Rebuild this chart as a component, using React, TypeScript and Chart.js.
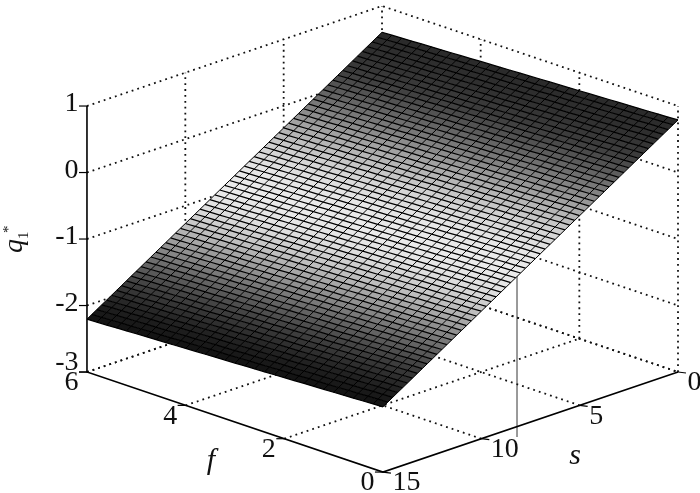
import React, { useEffect, useRef } from "react";
import { Chart, registerables } from "chart.js";

Chart.register(...registerables);

// --- data ---
const sGrid = [0,0.25,0.5,0.75,1,1.25,1.5,1.75,2,2.25,2.5,2.75,3,3.25,3.5,3.75,4,4.25,4.5,4.75,5,5.25,5.5,5.75,6,6.25,6.5,6.75,7,7.25,7.5,7.75,8,8.25,8.5,8.75,9,9.25,9.5,9.75,10,10.25,10.5,10.75,11,11.25,11.5,11.75,12,12.25,12.5,12.75,13,13.25,13.5,13.75,14,14.25,14.5,14.75,15];
const qAtS = [0.79,0.743,0.696,0.65,0.603,0.556,0.509,0.462,0.415,0.369,0.322,0.275,0.228,0.181,0.134,0.088,0.041,-0.006,-0.053,-0.1,-0.147,-0.193,-0.24,-0.287,-0.334,-0.381,-0.428,-0.474,-0.521,-0.568,-0.615,-0.662,-0.709,-0.755,-0.802,-0.849,-0.896,-0.943,-0.99,-1.036,-1.083,-1.13,-1.177,-1.224,-1.271,-1.317,-1.364,-1.411,-1.458,-1.505,-1.552,-1.598,-1.645,-1.692,-1.739,-1.786,-1.833,-1.879,-1.926,-1.973,-2.02];
const fGrid = [0,0.2,0.4,0.6,0.8,1,1.2,1.4,1.6,1.8,2,2.2,2.4,2.6,2.8,3,3.2,3.4,3.6,3.8,4,4.2,4.4,4.6,4.8,5,5.2,5.4,5.6,5.8,6];
const qDropAtF = [0,-0.006,-0.012,-0.019,-0.025,-0.031,-0.037,-0.043,-0.049,-0.056,-0.062,-0.068,-0.074,-0.08,-0.086,-0.093,-0.099,-0.105,-0.111,-0.117,-0.123,-0.13,-0.136,-0.142,-0.148,-0.154,-0.16,-0.167,-0.173,-0.179,-0.185];
// grey level of the facets at s = 0, 1, ... 15
const shadeAtS = [42,48,62,96,135,178,212,230,236,226,196,150,104,64,36,18];
const zTicks = [-3,-2,-1,0,1];
const fTicks = [0,2,4,6];
const sTicks = [0,5,10,15];
const sMax = 15;
const fMax = 6;
const zMin = -3;
const zMax = 1;

// --- view of the 3-D box on the page plane ---
const W = 700;
const H = 493;
const px = (s: number, f: number) => 678 - 19.67 * s - 49.33 * f;
const py = (s: number, f: number, q: number) => 372 + 6.67 * s - 16.67 * f - 66.5 * (q - zMin);
const P = (s: number, f: number, q: number) => ({ x: px(s, f), y: py(s, f, q) });

const shade = (s: number) => {
  const i = Math.min(Math.floor(s), shadeAtS.length - 2);
  const v = Math.round(shadeAtS[i] + (shadeAtS[i + 1] - shadeAtS[i]) * (s - i));
  return `rgb(${v},${v},${v})`;
};

const line = (data: any[], color: string, width: number, dash: number[] = []) => ({
  data,
  borderColor: color,
  borderWidth: width,
  borderDash: dash,
  pointRadius: 0,
  fill: false,
  tension: 0,
});

function buildDatasets() {
  const dot = [1.8, 4.1];
  const top: any[] = [];
  // solid box edges and tick marks
  top.push(line([P(0, 0, zMin), P(sMax, 0, zMin), P(sMax, fMax, zMin), P(sMax, fMax, zMax)], "#000", 1.6));
  zTicks.forEach((z) => {
    const a = P(sMax, fMax, z);
    top.push(line([a, { x: a.x - 8, y: a.y }], "#000", 1.2));
  });
  fTicks.forEach((f) => {
    const a = P(sMax, f, zMin);
    top.push(line([a, { x: a.x - 8, y: a.y }], "#000", 1.2));
  });
  sTicks.forEach((s) => {
    const a = P(s, 0, zMin);
    top.push(line([a, { x: a.x + 8, y: a.y + 1 }], "#000", 1.2));
  });

  // mesh lines
  fGrid.forEach((f, j) => {
    top.push(line(sGrid.map((s, i) => P(s, f, qAtS[i] + qDropAtF[j])), "#000", 1));
  });
  sGrid.forEach((s, i) => {
    top.push(line(fGrid.map((f, j) => P(s, f, qAtS[i] + qDropAtF[j])), "#000", 1.25));
  });
  // facets: one closed strip for each step of s
  for (let i = 0; i < sGrid.length - 1; i++) {
    const a = fGrid.map((f, j) => P(sGrid[i], f, qAtS[i] + qDropAtF[j]));
    const b = fGrid.map((f, j) => P(sGrid[i + 1], f, qAtS[i + 1] + qDropAtF[j])).reverse();
    top.push({
      data: [...a, ...b],
      borderWidth: 0,
      borderColor: "rgba(0,0,0,0)",
      backgroundColor: shade((sGrid[i] + sGrid[i + 1]) / 2),
      pointRadius: 0,
      fill: "shape",
      tension: 0,
    });
  }
  // dotted box behind the surface
  const c = "#111";
  zTicks.forEach((z) => {
    top.push(line([P(sMax, fMax, z), P(0, fMax, z), P(0, 0, z)], c, 1.8, dot));
  });
  [0, 5, 10].forEach((s) => {
    top.push(line([P(s, fMax, zMin), P(s, fMax, zMax)], c, 1.8, dot));
  });
  [0, 2, 4].forEach((f) => {
    top.push(line([P(0, f, zMin), P(0, f, zMax)], c, 1.8, dot));
  });
  [5, 10].forEach((s) => top.push(line([P(s, 0, zMin), P(s, fMax, zMin)], c, 1.8, dot)));
  [2, 4].forEach((f) => top.push(line([P(sMax, f, zMin), P(0, f, zMin)], c, 1.8, dot)));
  top.push(line([P(sMax, fMax, zMin), P(0, fMax, zMin), P(0, 0, zMin)], c, 1.8, dot));
  // thin grey stroke that runs down from the surface
  top.push(line([{ x: 517, y: 276 }, { x: 517, y: 437 }], "#8c8c8c", 1));
  return top;
}

const textPlugin = {
  id: "labels3d",
  afterDraw(chart: any) {
    const { ctx, scales } = chart;
    const X = (v: number) => scales.x.getPixelForValue(v);
    const Y = (v: number) => scales.y.getPixelForValue(v);
    ctx.save();
    ctx.fillStyle = "#111";
    ctx.textBaseline = "middle";
    ctx.font = "28px 'Liberation Serif'";
    ctx.textAlign = "right";
    zTicks.forEach((z) => {
      const a = P(sMax, fMax, z);
      ctx.fillText(String(z), X(a.x - 8.5), Y(a.y + (z === zMin ? -9 : -2)));
    });
    ctx.textAlign = "center";
    fTicks.forEach((f) => {
      const a = P(sMax, f, zMin);
      ctx.fillText(String(f), X(a.x - 15.5), Y(a.y + 11));
    });
    ctx.textAlign = "left";
    sTicks.forEach((s) => {
      const a = P(s, 0, zMin);
      ctx.fillText(String(s), X(a.x + 9.5), Y(a.y + 11));
    });
    ctx.textAlign = "center";
    ctx.font = "italic 30px 'Liberation Serif'";
    ctx.fillText("f", X(211), Y(461));
    ctx.fillText("s", X(575), Y(456));
    // q1* rotated
    ctx.save();
    ctx.translate(X(22), Y(253));
    ctx.rotate(-Math.PI / 2);
    ctx.textAlign = "left";
    ctx.textBaseline = "alphabetic";
    ctx.font = "italic 28px 'Liberation Serif'";
    ctx.fillText("q", 0, 0);
    ctx.font = "15px 'Liberation Serif'";
    ctx.fillText("1", 14, 6);
    ctx.fillText("*", 20, -9);
    ctx.restore();
    ctx.restore();
  },
};

export default function App() {
  const ref = useRef<HTMLCanvasElement>(null);
  useEffect(() => {
    document.body.style.margin = "0";
    const chart = new Chart(ref.current as HTMLCanvasElement, {
      type: "line",
      data: { datasets: buildDatasets() },
      options: {
        animation: false,
        responsive: false,
        events: [],
        layout: { padding: 0 },
        plugins: { legend: { display: false }, title: { display: false }, tooltip: { enabled: false } },
        scales: {
          x: { type: "linear", min: 0, max: W, display: false },
          y: { type: "linear", min: 0, max: H, reverse: true, display: false },
        },
      },
      plugins: [textPlugin],
    } as any);
    return () => chart.destroy();
  }, []);
  return <canvas ref={ref} width={W} height={H} style={{ display: "block" }} />;
}
